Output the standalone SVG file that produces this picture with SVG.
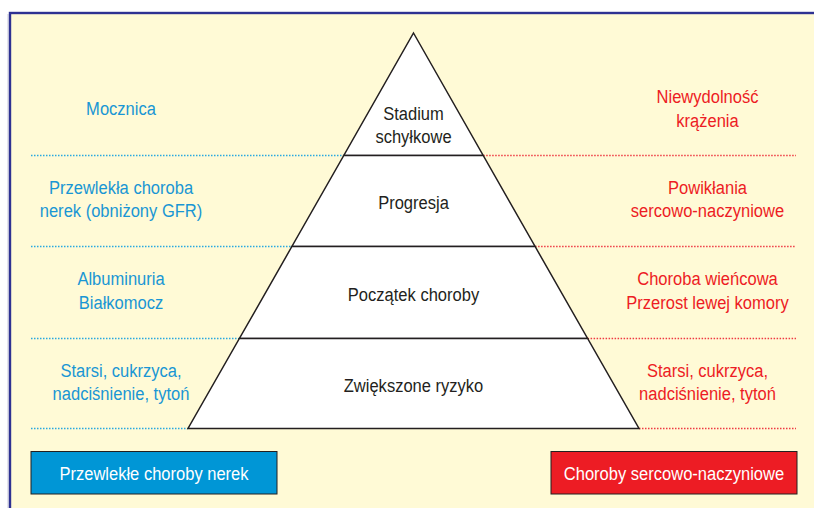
<svg xmlns="http://www.w3.org/2000/svg" width="814" height="508" viewBox="0 0 814 508">
<style>
.t{font-family:"Liberation Sans",Arial,sans-serif;font-size:19px;text-anchor:middle}
.b{fill:#1996d4}
.r{fill:#ed1c24}
.k{fill:#231f20}
.w{fill:#ffffff}
.lvl{fill:#ffffff;stroke:#231f20;stroke-width:1.5;stroke-linejoin:miter}
.db{stroke:#29a9e0;stroke-width:1.3;stroke-dasharray:1.5 1.5;fill:none}
.dr{stroke:#ee3a43;stroke-width:1.3;stroke-dasharray:1.5 1.5;fill:none}
.box{stroke:#231f20;stroke-width:1}
</style>
<rect x="0" y="0" width="814" height="508" fill="#ffffff"/>
<line x1="8" y1="14" x2="8" y2="508" stroke="#c8c8d8" stroke-width="1"/>
<rect id="frame" x="10" y="13" width="820" height="510" fill="#fffad6" stroke="#2e3192" stroke-width="2.4"/>
<g id="connectors">
<line class="db" x1="31" y1="155.5" x2="343.8" y2="155.5"/>
<line class="db" x1="31" y1="246.5" x2="291.9" y2="246.5"/>
<line class="db" x1="31" y1="338.5" x2="239.4" y2="338.5"/>
<line class="db" x1="31" y1="428.5" x2="188" y2="428.5"/>
<line class="dr" x1="483.2" y1="155.5" x2="796" y2="155.5"/>
<line class="dr" x1="535.1" y1="246.5" x2="796" y2="246.5"/>
<line class="dr" x1="587.6" y1="338.5" x2="796" y2="338.5"/>
<line class="dr" x1="639" y1="428.5" x2="796" y2="428.5"/>
</g>
<g id="level-stadium">
<polygon class="lvl" points="413.5,33 483.2,155.5 343.8,155.5"/>
<text class="t k" transform="translate(413.5,119.5) scale(0.87,1)">Stadium</text>
<text class="t k" transform="translate(413.5,142.5) scale(0.87,1)">schyłkowe</text>
</g>
<g id="level-progresja">
<polygon class="lvl" points="343.8,155.5 483.2,155.5 535.1,246.5 291.9,246.5"/>
<text class="t k" transform="translate(413.5,209) scale(0.87,1)">Progresja</text>
</g>
<g id="level-poczatek">
<polygon class="lvl" points="291.9,246.5 535.1,246.5 587.6,338.5 239.4,338.5"/>
<text class="t k" transform="translate(413.5,301) scale(0.87,1)">Początek choroby</text>
</g>
<g id="level-ryzyko">
<polygon class="lvl" points="239.4,338.5 587.6,338.5 639,428.5 188,428.5"/>
<text class="t k" transform="translate(413.5,391.5) scale(0.87,1)">Zwiększone ryzyko</text>
</g>
<g id="left-mocznica">
<text class="t b" transform="translate(121,115) scale(0.87,1)">Mocznica</text>
</g>
<g id="left-przewlekla">
<text class="t b" transform="translate(121,193.5) scale(0.87,1)">Przewlekła choroba</text>
<text class="t b" transform="translate(121,216.5) scale(0.87,1)">nerek (obniżony GFR)</text>
</g>
<g id="left-albuminuria">
<text class="t b" transform="translate(121,285) scale(0.87,1)">Albuminuria</text>
<text class="t b" transform="translate(121,308.5) scale(0.87,1)">Białkomocz</text>
</g>
<g id="left-starsi">
<text class="t b" transform="translate(121,377) scale(0.87,1)">Starsi, cukrzyca,</text>
<text class="t b" transform="translate(121,400) scale(0.87,1)">nadciśnienie, tytoń</text>
</g>
<g id="right-niewydolnosc">
<text class="t r" transform="translate(707.5,103) scale(0.87,1)">Niewydolność</text>
<text class="t r" transform="translate(707.5,126.5) scale(0.87,1)">krążenia</text>
</g>
<g id="right-powiklania">
<text class="t r" transform="translate(707.5,193.5) scale(0.87,1)">Powikłania</text>
<text class="t r" transform="translate(707.5,216.5) scale(0.87,1)">sercowo-naczyniowe</text>
</g>
<g id="right-choroba">
<text class="t r" transform="translate(707.5,285) scale(0.87,1)">Choroba wieńcowa</text>
<text class="t r" transform="translate(707.5,308.5) scale(0.87,1)">Przerost lewej komory</text>
</g>
<g id="right-starsi">
<text class="t r" transform="translate(707.5,377) scale(0.87,1)">Starsi, cukrzyca,</text>
<text class="t r" transform="translate(707.5,400) scale(0.87,1)">nadciśnienie, tytoń</text>
</g>
<g id="box-nerek">
<rect class="box" x="31" y="451.5" width="246" height="42.5" fill="#0096d6"/>
<text class="t w" transform="translate(154,479.5) scale(0.87,1)">Przewlekłe choroby nerek</text>
</g>
<g id="box-serce">
<rect class="box" x="551" y="451.5" width="246" height="42.5" fill="#ed1c24"/>
<text class="t w" transform="translate(674,479.5) scale(0.87,1)">Choroby sercowo-naczyniowe</text>
</g>
</svg>
